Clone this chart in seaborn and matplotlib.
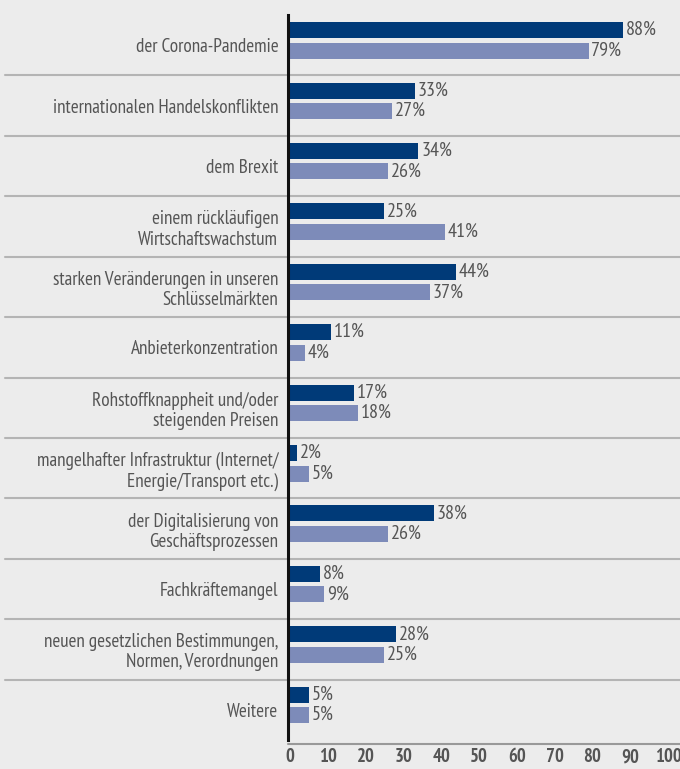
import seaborn as sns
import matplotlib.pyplot as plt
import pandas as pd

categories = [
    "der Corona-Pandemie",
    "internationalen Handelskonflikten",
    "dem Brexit",
    "einem rückläufigen\nWirtschaftswachstum",
    "starken Veränderungen in unseren\nSchlüsselmärkten",
    "Anbieterkonzentration",
    "Rohstoffknappheit und/oder\nsteigenden Preisen",
    "mangelhafter Infrastruktur (Internet/\nEnergie/Transport etc.)",
    "der Digitalisierung von\nGeschäftsprozessen",
    "Fachkräftemangel",
    "neuen gesetzlichen Bestimmungen,\nNormen, Verordnungen",
    "Weitere",
]
series_a = [88, 33, 34, 25, 44, 11, 17, 2, 38, 8, 28, 5]
series_b = [79, 27, 26, 41, 37, 4, 18, 5, 26, 9, 25, 5]
ticks = [0, 10, 20, 30, 40, 50, 60, 70, 80, 90, 100]

df = pd.DataFrame({
    "Kategorie": categories * 2,
    "Wert": series_a + series_b,
    "Reihe": ["A"] * len(categories) + ["B"] * len(categories),
})

sns.set_theme(style="white")
plt.rcParams["font.family"] = ["PT Sans Narrow", "DejaVu Sans"]

bg = "#ececec"
txt = "#555555"
fig = plt.figure(figsize=(6.8, 7.69), dpi=100, facecolor=bg)
ax = fig.add_axes([288 / 680, 29 / 769, 380 / 680, 725 / 769], facecolor=bg)

sns.barplot(data=df, y="Kategorie", x="Wert", hue="Reihe",
            palette={"A": "#003a78", "B": "#7d8bb9"}, saturation=1,
            width=0.68, gap=0.22, orient="h", legend=False, linewidth=0, ax=ax)

# Balken etwas nach oben versetzt wie im Original
for p in ax.patches:
    p.set_y(p.get_y() - 0.08)

for cont in ax.containers:
    ax.bar_label(cont, labels=[f"{v:.0f}%" for v in cont.datavalues],
                 padding=2, color=txt, fontsize=14.5)

ax.set_xlim(-0.5, 100)
ax.set_ylim(len(categories) - 0.5, -0.5)
ax.set_xticks(ticks)
ax.set_xlabel("")
ax.set_ylabel("")
ax.tick_params(axis="y", length=0, pad=7, labelsize=13.8, labelcolor=txt)
ax.tick_params(axis="x", length=0, pad=6, labelsize=13.5, labelcolor=txt)
for lbl in ax.get_xticklabels():
    lbl.set_fontweight("bold")
for lbl in ax.get_yticklabels():
    lbl.set_linespacing(1.15)

for s in ["top", "right", "bottom"]:
    ax.spines[s].set_visible(False)
ax.spines["left"].set_color("#111111")
ax.spines["left"].set_linewidth(2.2)

# Trennlinien zwischen Gruppen
tr = ax.get_yaxis_transform()
for i in range(len(categories) - 1):
    ax.plot([-0.745, 1.04], [i + 0.5, i + 0.5], transform=tr, color="#b4b4b4",
            lw=1.5, clip_on=False, zorder=0)
ax.plot([0, 1.04], [-0.006, -0.006], transform=ax.transAxes, color="#999999",
        lw=1.5, clip_on=False)

fig.savefig("out.png", dpi=100, facecolor=bg)
